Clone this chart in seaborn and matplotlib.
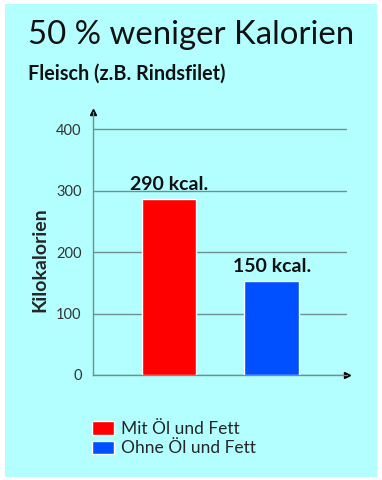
import matplotlib
matplotlib.use("Agg")
import matplotlib.pyplot as plt
import seaborn as sns
from matplotlib.patches import Rectangle

# data
categories = ["Mit Öl und Fett", "Ohne Öl und Fett"]
kcal = [287, 153]
bar_labels = ["290 kcal.", "150 kcal."]
yticks = [0, 100, 200, 300, 400]
colors = ["#ff0000", "#0050ff"]

title = "50 % weniger Kalorien"
subtitle = "Fleisch (z.B. Rindsfilet)"
ylabel = "Kilokalorien"

sns.set_style("white")
plt.rcParams["font.family"] = ["Lato", "DejaVu Sans"]

bg = "#b3ffff"
line_col = "#6f9090"

fig = plt.figure(figsize=(3.82, 4.8), dpi=100)
fig.patches.append(Rectangle((5 / 382, 1 - 477 / 480), 372 / 382, 473 / 480,
                             transform=fig.transFigure, facecolor=bg,
                             edgecolor="none", zorder=-1))

ax = fig.add_axes([0.2427, 0.21875, 0.6656, 0.5479])
ax.set_facecolor("none")

sns.barplot(x=categories, y=kcal, hue=categories, palette=colors,
            width=0.534, saturation=1, legend=False, ax=ax, zorder=3)

ax.set_xlim(-0.743, 1.733)
ax.set_ylim(0, 428)
ax.set_yticks(yticks)
ax.set_xticks([])
ax.yaxis.grid(True, color=line_col, linewidth=1)
ax.set_axisbelow(True)
for s in ["top", "right"]:
    ax.spines[s].set_visible(False)
for s in ["left", "bottom"]:
    ax.spines[s].set_color(line_col)
    ax.spines[s].set_linewidth(1)
ax.tick_params(axis="y", length=0, pad=8, labelsize=10.5, labelcolor="#333333")
ax.set_xlabel("")
ax.set_ylabel(ylabel, fontsize=14, fontweight="bold")
ax.yaxis.set_label_coords(-0.175, 0.44)

# arrow heads
ax.plot(0, 1, marker="^", color="black", markersize=4,
        transform=ax.transAxes, clip_on=False)
ax.plot(1, 0, marker=">", color="black", markersize=4,
        transform=ax.transAxes, clip_on=False)

for i, (v, lab) in enumerate(zip(kcal, bar_labels)):
    ax.text(i, v + 10, lab, ha="center", va="bottom", fontsize=14,
            fontweight="bold", color="#111111")

fig.text(28 / 382, 1 - 35 / 480, title, fontsize=23.7, va="center", color="#111111")
fig.text(28 / 382, 1 - 74 / 480, subtitle, fontsize=14.2, fontweight="bold",
         va="center", color="#111111")

handles = [Rectangle((0, 0), 1, 1, facecolor=c) for c in colors]
fig.legend(handles, categories, loc="upper left",
           bbox_to_anchor=(85 / 382, 1 - 414 / 480), frameon=False,
           fontsize=12.5, handlelength=1.25, handleheight=0.8,
           handletextpad=0.45, labelspacing=0.2, borderaxespad=0)

fig.savefig("out.png", dpi=100)
